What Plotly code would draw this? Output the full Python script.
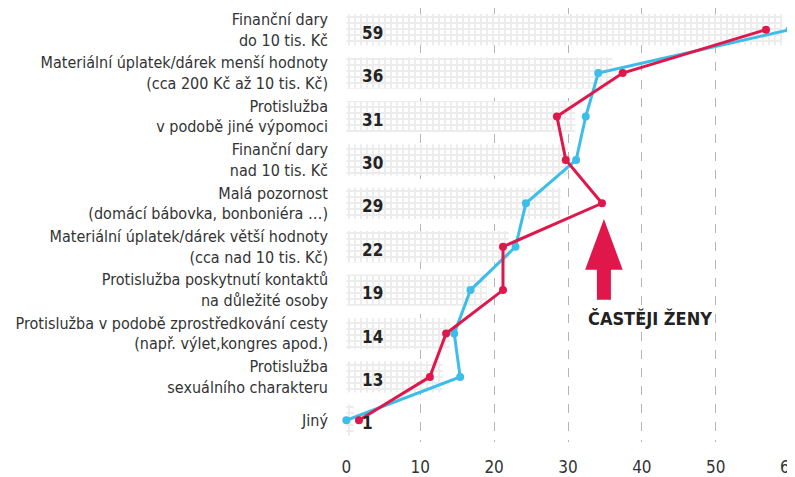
import plotly.graph_objects as go

categories = [
    "Finanční dary<br>do 10 tis. Kč",
    "Materiální úplatek/dárek menší hodnoty<br>(cca 200 Kč až 10 tis. Kč)",
    "Protislužba<br>v podobě jiné výpomoci",
    "Finanční dary<br>nad 10 tis. Kč",
    "Malá pozornost<br>(domácí bábovka, bonboniéra …)",
    "Materiální úplatek/dárek větší hodnoty<br>(cca nad 10 tis. Kč)",
    "Protislužba poskytnutí kontaktů<br>na důležité osoby",
    "Protislužba v podobě zprostředkování cesty<br>(např. výlet,kongres apod.)",
    "Protislužba<br>sexuálního charakteru",
    "Jiný",
]
total = [59, 36, 31, 30, 29, 22, 19, 14, 13, 1]
men = [60.0, 34.1, 32.4, 31.1, 24.3, 22.9, 16.8, 14.6, 15.4, 0.0]
women = [56.8, 37.4, 28.5, 29.7, 34.6, 21.2, 21.2, 13.5, 11.3, 1.7]
x_ticks = [0, 10, 20, 30, 40, 50, 60]
arrow_label = "ČASTĚJI ŽENY"

FONT = "DejaVu Sans Condensed, Roboto, sans-serif"
RED = "#E0174A"
BLUE = "#3CBDEA"

fig = go.Figure()
fig.add_trace(go.Bar(
    y=categories, x=total, orientation="h", width=0.72,
    marker=dict(color="white", line=dict(width=0),
                pattern=dict(shape="+", size=6, solidity=0.55,
                             fgcolor="#DADADA", bgcolor="white")),
    hoverinfo="skip", showlegend=False,
))
fig.add_trace(go.Scatter(
    y=categories, x=men, mode="lines+markers",
    line=dict(color=BLUE, width=3), marker=dict(color=BLUE, size=8),
    cliponaxis=False, showlegend=False,
))
fig.add_trace(go.Scatter(
    y=categories, x=women, mode="lines+markers",
    line=dict(color=RED, width=3), marker=dict(color=RED, size=8),
    cliponaxis=False, showlegend=False,
))

for c, v in zip(categories, total):
    fig.add_annotation(x=1.9, y=c, text=f"<b>{v}</b>", showarrow=False,
                       xanchor="left", yshift=-3,
                       font=dict(family=FONT, size=17, color="#222"))

# arrow decoration (x in data units, y in paper units)
ax, head_hw, shaft_hw = 34.86, 2.54, 0.95
y_tip, y_head, y_bot = 0.514, 0.397, 0.328
fig.add_shape(
    type="path", xref="x", yref="paper",
    path=(f"M{ax},{y_tip} L{ax+head_hw},{y_head} L{ax+shaft_hw},{y_head} "
          f"L{ax+shaft_hw},{y_bot} L{ax-shaft_hw},{y_bot} L{ax-shaft_hw},{y_head} "
          f"L{ax-head_hw},{y_head} Z"),
    fillcolor=RED, line=dict(width=0),
)
fig.add_annotation(x=32.4, xref="x", y=0.284, yref="paper", text=f"<b>{arrow_label}</b>",
                   showarrow=False, xanchor="left", yanchor="middle",
                   font=dict(family=FONT, size=18, color="#222"))

# page body has an 8px default margin, so the figure is sized to fit the window
fig.update_layout(
    width=787, height=469,
    margin=dict(l=338, r=5, t=0, b=35, autoexpand=False),
    plot_bgcolor="white", paper_bgcolor="white",
    font=dict(family=FONT, color="#333"),
    xaxis=dict(range=[-0.05, 60.05], tickvals=x_ticks, showgrid=True,
               griddash="dash", gridcolor="#B5B5B5", gridwidth=1,
               zeroline=False, showline=False, ticks="", automargin=False,
               ticklabelstandoff=13, ticklabeloverflow="allow",
               tickfont=dict(size=17, color="#333")),
    yaxis=dict(range=[9.5, -0.5], showgrid=False, zeroline=False,
               ticks="", ticklabelstandoff=17, automargin=False,
               tickfont=dict(size=16, color="#333")),
)

fig.write_html("out.html")
